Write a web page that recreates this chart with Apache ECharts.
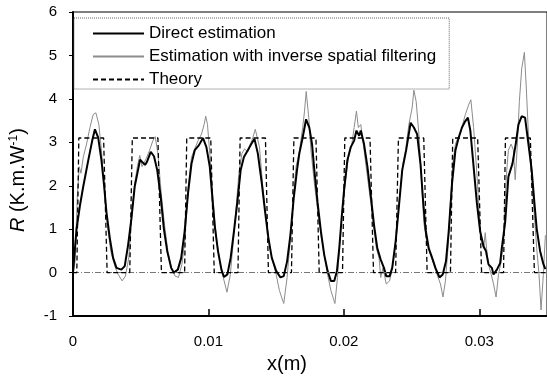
<!DOCTYPE html>
<html>
<head>
<meta charset="utf-8">
<script src="https://cdn.jsdelivr.net/npm/echarts@6/dist/echarts.min.js"></script>
<style>html,body{margin:0;padding:0;background:#fff}#c{width:547px;height:379px}</style>
</head>
<body>
<div id="c"></div>
<script>
const seriesNames = ['Direct estimation', 'Estimation with inverse spatial filtering', 'Theory'];
const yTicks = { min: -1, max: 6, interval: 1 };
const xTicks = { min: 0, max: 0.035, interval: 0.01 };

const directData = [[0,0],[0.0001,0.04],[0.00026,1.0],[0.00051,1.54],[0.00076,1.99],[0.00113,2.59],[0.00142,3.04],[0.00162,3.30],[0.00186,3.11],[0.0021,2.59],[0.0023,1.99],[0.00247,1.39],[0.00272,0.79],[0.00296,0.34],[0.00321,0.11],[0.00357,0.07],[0.00382,0.15],[0.00407,0.64],[0.00431,1.24],[0.00456,1.99],[0.0048,2.36],[0.00495,2.6],[0.00532,2.48],[0.00546,2.55],[0.00574,2.78],[0.00598,2.68],[0.00622,2.36],[0.00647,1.76],[0.00671,1.01],[0.00696,0.49],[0.00725,0.11],[0.00745,0],[0.00774,0.07],[0.00799,0.34],[0.00824,0.94],[0.0085,1.85],[0.00875,2.51],[0.00899,2.82],[0.00929,2.93],[0.0096,3.10],[0.00985,2.89],[0.0101,2.44],[0.01026,1.84],[0.01046,1.09],[0.01071,0.49],[0.01096,0.07],[0.01115,-0.1],[0.0114,-0.04],[0.01164,0.34],[0.01188,0.94],[0.01213,1.61],[0.01238,2.36],[0.01262,2.66],[0.01291,2.82],[0.01316,2.96],[0.0134,3.08],[0.01365,2.74],[0.01394,2.06],[0.01419,1.39],[0.01443,0.79],[0.01468,0.34],[0.015,0.04],[0.01532,-0.11],[0.01556,-0.08],[0.01581,0.26],[0.01605,0.86],[0.01629,1.69],[0.01654,2.36],[0.01671,2.74],[0.01696,3.11],[0.01721,3.53],[0.01745,3.34],[0.01765,2.96],[0.01782,2.36],[0.01806,1.61],[0.01831,0.94],[0.01855,0.41],[0.0188,0.04],[0.01904,-0.19],[0.01929,-0.19],[0.01949,0.04],[0.01966,0.56],[0.01985,1.31],[0.02002,1.91],[0.02026,2.59],[0.02051,2.89],[0.02076,3.04],[0.02093,3.27],[0.02113,3.15],[0.02125,3.27],[0.02149,2.96],[0.02174,2.44],[0.02199,1.76],[0.02223,1.09],[0.02247,0.56],[0.02272,0.30],[0.02296,0.11],[0.02313,-0.08],[0.02338,-0.08],[0.02357,0.11],[0.02382,0.71],[0.02407,1.54],[0.02431,2.36],[0.0246,2.82],[0.02493,3.45],[0.02517,3.34],[0.02541,3.19],[0.02566,2.5],[0.02584,1.7],[0.02603,1.0],[0.02627,0.56],[0.02652,0.34],[0.02676,0.11],[0.02706,-0.11],[0.0273,-0.04],[0.02754,0.26],[0.02774,0.94],[0.02799,2.06],[0.02824,2.82],[0.02848,3.11],[0.02872,3.34],[0.02897,3.49],[0.02916,3.57],[0.02934,3.27],[0.02958,2.44],[0.02982,1.61],[0.03007,0.94],[0.03032,0.6],[0.03049,0.5],[0.03068,0.19],[0.03093,0.11],[0.03105,-0.04],[0.0313,0.07],[0.03154,0.22],[0.03166,0.56],[0.03191,1.16],[0.03215,2.21],[0.03245,2.51],[0.03269,2.96],[0.03289,3.41],[0.03313,3.60],[0.03338,3.57],[0.03363,2.96],[0.03387,2.36],[0.03407,1.61],[0.03424,1.01],[0.03449,0.5],[0.03473,0.2],[0.03488,0.08]];

const filteredData = [[0.00002,0],[0.00015,0.26],[0.00032,1.76],[0.00046,2.44],[0.00059,2.29],[0.00076,2.66],[0.001,2.96],[0.00125,3.34],[0.00149,3.64],[0.00169,3.68],[0.00191,3.41],[0.0021,2.82],[0.0023,1.99],[0.00254,1.09],[0.00279,0.49],[0.00309,0.15],[0.00333,-0.04],[0.00363,-0.19],[0.00387,-0.08],[0.00412,0.34],[0.00436,1.39],[0.00456,2.06],[0.00475,2.44],[0.00493,2.70],[0.0051,2.44],[0.00541,2.63],[0.00566,2.82],[0.0059,3.04],[0.00607,3.13],[0.00627,2.74],[0.00651,1.84],[0.00676,1.09],[0.00701,0.49],[0.0073,0.07],[0.00754,-0.08],[0.00779,-0.11],[0.00804,0.19],[0.00828,0.79],[0.0085,1.95],[0.00875,2.66],[0.00899,2.85],[0.00924,3.04],[0.00949,3.19],[0.00968,3.41],[0.0098,3.60],[0.00993,3.41],[0.0101,2.74],[0.01034,1.69],[0.01059,0.79],[0.01083,0.26],[0.01107,-0.08],[0.01137,-0.45],[0.01162,-0.04],[0.01181,0.64],[0.01206,1.54],[0.01225,2.29],[0.01247,2.74],[0.01267,2.85],[0.01291,2.78],[0.01311,2.96],[0.01328,3.11],[0.01346,3.30],[0.0136,3.30],[0.01377,2.89],[0.01401,1.99],[0.01434,1.01],[0.01463,0.41],[0.015,-0.04],[0.01524,-0.41],[0.01556,-0.71],[0.01581,-0.11],[0.01605,0.79],[0.01629,1.76],[0.01647,2.44],[0.01671,2.78],[0.01696,3.34],[0.01709,3.7],[0.01722,4.17],[0.01741,3.57],[0.01757,2.82],[0.01782,2.06],[0.01806,1.46],[0.01831,0.86],[0.01855,0.41],[0.0188,-0.04],[0.01904,-0.41],[0.01934,-0.71],[0.01953,-0.11],[0.01971,0.71],[0.0199,1.46],[0.0201,2.06],[0.02034,2.66],[0.02059,2.96],[0.02076,3.34],[0.02093,3.72],[0.02107,3.34],[0.02125,3.41],[0.02149,2.82],[0.02174,2.21],[0.02199,1.61],[0.02223,1.01],[0.0224,0.56],[0.0226,0.34],[0.02272,-0.11],[0.02289,0.11],[0.02313,-0.26],[0.02338,-0.19],[0.02363,0.19],[0.02387,0.86],[0.02412,1.76],[0.02436,2.51],[0.02456,2.82],[0.0248,3.41],[0.02504,3.79],[0.02517,4.2],[0.02534,3.94],[0.02554,3.19],[0.02572,2.2],[0.0259,1.16],[0.02615,0.64],[0.0264,0.41],[0.02664,0.19],[0.02688,-0.04],[0.02713,-0.26],[0.02732,-0.56],[0.0275,-0.19],[0.02769,0.56],[0.02787,1.61],[0.02804,2.51],[0.02824,2.96],[0.02843,3.11],[0.0286,3.19],[0.02877,3.41],[0.02897,3.64],[0.02921,3.86],[0.02938,3.98],[0.02958,3.34],[0.02982,2.29],[0.03,1.31],[0.03015,0.71],[0.03032,0.56],[0.03044,0.92],[0.03054,0.55],[0.03068,0.19],[0.03088,-0.04],[0.03105,-0.26],[0.03124,-0.56],[0.03142,-0.04],[0.03162,0.26],[0.03179,0.71],[0.03191,1.61],[0.03203,2.36],[0.03215,2.82],[0.03235,2.96],[0.03252,2.82],[0.03265,2.14],[0.03279,2.82],[0.03296,3.94],[0.03313,4.69],[0.03333,5.07],[0.03346,4.32],[0.03363,3.19],[0.03387,2.21],[0.03407,1.31],[0.03424,0.56],[0.03441,-0.04],[0.03456,-0.86],[0.03473,-0.04],[0.03488,0.86]];

const theoryData = [[0,0],[0.00028,0],[0.00043,3.1],[0.00226,3.1],[0.00252,0],[0.00419,0],[0.00438,3.1],[0.00627,3.1],[0.00653,0],[0.00824,0],[0.0084,3.1],[0.01017,3.1],[0.01043,0],[0.01218,0],[0.01234,3.1],[0.01421,3.1],[0.01443,0],[0.01613,0],[0.01631,3.1],[0.01794,3.1],[0.01818,0],[0.0199,0],[0.02007,3.1],[0.02193,3.1],[0.02219,0],[0.02382,0],[0.02403,3.1],[0.0259,3.1],[0.02615,0],[0.02787,0],[0.02804,3.1],[0.02988,3.1],[0.03017,0],[0.03179,0],[0.03193,3.1],[0.03377,3.1],[0.03407,0],[0.035,0]];

const zeroLine = [0];

const FONT = 'Liberation Sans, Arial, Helvetica, sans-serif';
const chart = echarts.init(document.getElementById('c'), null, { renderer: 'canvas' });
chart.setOption({
  animation: false,
  backgroundColor: '#fff',
  textStyle: { fontFamily: FONT, color: '#000' },
  grid: { left: 73, right: -2, top: 12, bottom: 57, show: true, borderColor: '#000', borderWidth: 1, backgroundColor: 'transparent' },
  legend: {
    orient: 'vertical', left: 74, top: 18,
    padding: [7, 13, 1, 18],
    itemWidth: 51, itemHeight: 14, itemGap: 6,
    itemStyle: { opacity: 0, borderWidth: 0 },
    backgroundColor: '#fff', borderColor: '#666', borderWidth: 1, borderType: 'dotted',
    textStyle: { fontSize: 17, lineHeight: 17, color: '#000', fontFamily: FONT, padding: [0, 0, 0, 0] },
    data: seriesNames
  },
  xAxis: {
    type: 'value', min: xTicks.min, max: xTicks.max, interval: xTicks.interval,
    name: 'x(m)', nameLocation: 'middle', nameGap: 34,
    nameTextStyle: { fontSize: 20, color: '#000', fontFamily: FONT, padding: [0, 46, 0, 0] },
    axisLine: { onZero: false, lineStyle: { color: '#000', width: 2 } },
    axisTick: { inside: true, length: 7, lineStyle: { color: '#000', width: 1.5 } },
    axisLabel: { fontSize: 15, color: '#000', margin: 18, showMaxLabel: false,
      formatter: v => String(+v.toFixed(3)) },
    splitLine: { show: false }
  },
  yAxis: {
    type: 'value', min: yTicks.min, max: yTicks.max, interval: yTicks.interval,
    name: '{i|R} (K.m.W{s|-1})', nameLocation: 'middle', nameGap: 45,
    nameTextStyle: { fontSize: 20, color: '#000', fontFamily: FONT, padding: [0, 32, 0, 0],
      rich: { i: { fontSize: 20, fontStyle: 'italic', fontFamily: FONT }, s: { fontSize: 12, verticalAlign: 'top', padding: [0, 0, 8, 0], fontFamily: FONT } } },
    axisLine: { onZero: false, lineStyle: { color: '#000', width: 2 } },
    axisTick: { inside: false, length: 4, lineStyle: { color: '#000', width: 1 } },
    axisLabel: { fontSize: 15, color: '#000', margin: 16 },
    splitLine: { show: false }
  },
  series: [
    { name: seriesNames[0], type: 'line', data: directData, symbol: 'none', z: 4,
      lineStyle: { color: '#000', width: 2 }, itemStyle: { color: '#000' } },
    { name: seriesNames[1], type: 'line', data: filteredData, symbol: 'none', z: 3,
      lineStyle: { color: '#8c8c8c', width: 1 }, itemStyle: { color: '#8c8c8c' } },
    { name: seriesNames[2], type: 'line', data: theoryData, symbol: 'none', z: 5,
      lineStyle: { color: '#000', width: 1.3, type: [5, 3] }, itemStyle: { color: '#000' },
      markLine: { silent: true, symbol: 'none', label: { show: false },
        lineStyle: { color: '#777', width: 1, type: [6, 2, 1, 2] },
        data: zeroLine.map(v => ({ yAxis: v })) } }
  ]
});
</script>
</body>
</html>
